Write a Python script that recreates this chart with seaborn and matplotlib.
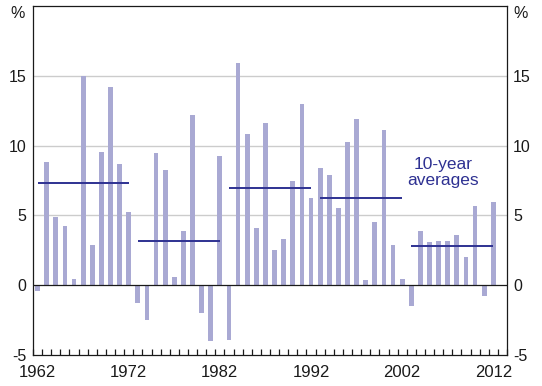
import numpy as np
import matplotlib
matplotlib.use("Agg")
import matplotlib.pyplot as plt
import seaborn as sns

# Annual values, 1962-2012 (per cent)
years = list(range(1962, 2013))
growth = [
    -0.45, 8.84, 4.90, 4.25, 0.47, 15.0, 2.89, 9.56, 14.2, 8.70,
    5.25, -1.25, -2.49, 9.48, 8.26, 0.60, 3.89, 12.2, -1.96, -3.97,
    9.27, -3.90, 15.94, 10.85, 4.11, 11.63, 2.53, 3.32, 7.48, 13.0,
    6.26, 8.41, 7.90, 5.54, 10.27, 11.92, 0.38, 4.54, 11.13, 2.89,
    0.45, -1.46, 3.89, 3.10, 3.18, 3.18, 3.60, 2.03, 5.69, -0.74,
    5.97,
]

# 10-year averages (drawn span start / end years and level)
avg_start = [1962, 1973, 1983, 1993, 2003]
avg_end = [1972, 1982, 1992, 2002, 2012]
avg_value = [7.3, 3.2, 6.93, 6.24, 2.8]

bar_color = "#a9a9d3"
line_color = "#2e3192"
ink = "#1a1a1a"

sns.set_theme(style="white")
plt.rcParams["font.family"] = ["Liberation Sans", "DejaVu Sans"]
plt.rcParams["axes.unicode_minus"] = False

fig = plt.figure(figsize=(5.42, 3.86), dpi=100)
ax = fig.add_axes([33 / 542, 1 - 355 / 386, 474 / 542, 349 / 386])

sns.barplot(x=years, y=growth, width=0.52, color=bar_color, saturation=1,
            errorbar=None, linewidth=0, edgecolor=bar_color, ax=ax, zorder=2)

# categorical positions: index = year - first year
x0 = years[0]
ax.hlines(avg_value, [s - x0 for s in avg_start], [e - x0 for e in avg_end],
          color=line_color, lw=1.4, zorder=3)
ax.text(2006.5 - x0, 8.05, "10-year\naverages", color=line_color,
        fontsize=12.5, ha="center", va="center", linespacing=1.1)

# grid + zero line
for g in [5, 10, 15]:
    ax.axhline(g, color="#cccccc", lw=1, zorder=1)
ax.axhline(0, color=ink, lw=0.9, zorder=3)

ax.set_xlim(-0.5, len(years) + 0.5)
ax.set_ylim(-5, 20)

label_years = list(range(1962, 2013, 10))
ax.set_xticks([y - x0 for y in label_years])
ax.set_xticklabels([str(y) for y in label_years])
ax.set_xticks(np.arange(-0.5, len(years) + 0.6, 1), minor=True)
ax.tick_params(axis="x", which="major", length=0, pad=7, labelsize=12,
               colors=ink)
ax.tick_params(axis="x", which="minor", direction="in", length=4.5,
               width=0.9, color=ink, bottom=True)

ax.set_yticks([-5, 0, 5, 10, 15])
ax.tick_params(axis="y", length=0, labelsize=11.5, colors=ink,
               left=True, right=True, labelleft=True, labelright=True, pad=4.5)
ax.set_xlabel("")
ax.set_ylabel("")

for side in ["left", "right", "top", "bottom"]:
    ax.spines[side].set_visible(True)
    ax.spines[side].set_color(ink)
    ax.spines[side].set_linewidth(0.9)

ax.text(-0.017, 19.45, "%", transform=ax.get_yaxis_transform(), ha="right",
        va="center", fontsize=11.5, color=ink)
ax.text(1.013, 19.45, "%", transform=ax.get_yaxis_transform(), ha="left",
        va="center", fontsize=11.5, color=ink)

fig.savefig("out.png", dpi=100)
